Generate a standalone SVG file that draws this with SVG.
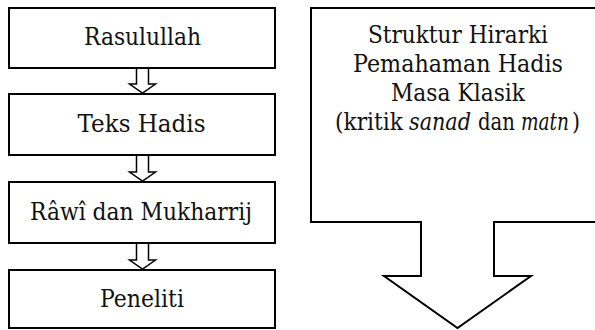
<svg xmlns="http://www.w3.org/2000/svg" width="595" height="330" viewBox="0 0 595 330">
<style>
.box{fill:#fff;stroke:#000;stroke-width:2}
.arr{fill:#fff;stroke:#000;stroke-width:1.5;stroke-linejoin:miter}
.big{fill:#fff;stroke:#000;stroke-width:2;stroke-linejoin:miter}
.t{font-family:"DejaVu Serif",serif;font-size:24px;fill:#111;text-anchor:middle}
.s{font-family:"DejaVu Serif",serif;font-size:24px;fill:#111;text-anchor:start}
.i{font-style:italic}
</style>
<rect width="595" height="330" fill="#fff"/>
<g id="connectors">
<path class="arr" d="M136.5,69 V84 H129.5 L142.5,93 L155.5,84 H148.5 V69"/>
<path class="arr" d="M136.5,156 V172 H129.5 L142.5,181 L155.5,172 H148.5 V156"/>
<path class="arr" d="M136.5,244 V260 H129.5 L142.5,269 L155.5,260 H148.5 V244"/>
</g>
<g id="n1"><rect class="box" x="9" y="8" width="266" height="60"/><text class="t" x="142.5" y="44.5" textLength="117" lengthAdjust="spacingAndGlyphs">Rasulullah</text></g>
<g id="n2"><rect class="box" x="9" y="94" width="266" height="61"/><text class="t" x="141.5" y="132" textLength="128" lengthAdjust="spacingAndGlyphs">Teks Hadis</text></g>
<g id="n3"><rect class="box" x="9" y="182" width="266" height="61"/><text class="t" x="141" y="220" textLength="222" lengthAdjust="spacingAndGlyphs">Râwî dan Mukharrij</text></g>
<g id="n4"><rect class="box" x="9" y="270" width="266" height="58"/><text class="t" x="142" y="306.5" textLength="84" lengthAdjust="spacingAndGlyphs">Peneliti</text></g>
<g id="n5">
<path class="big" d="M311,8 H605 V222 H494 V276 H531 L457.5,328 L384,276 H421 V222 H311 Z"/>
<text class="t" x="458" y="43" textLength="180" lengthAdjust="spacingAndGlyphs">Struktur Hirarki</text>
<text class="t" x="458" y="72" textLength="210" lengthAdjust="spacingAndGlyphs">Pemahaman Hadis</text>
<text class="t" x="458" y="101" textLength="134" lengthAdjust="spacingAndGlyphs">Masa Klasik</text>
<text class="s" x="335" y="130" textLength="68" lengthAdjust="spacingAndGlyphs">(kritik</text>
<text class="s i" x="409" y="130" textLength="62" lengthAdjust="spacingAndGlyphs">sanad</text>
<text class="s" x="478" y="130" textLength="37" lengthAdjust="spacingAndGlyphs">dan</text>
<text class="s i" x="521" y="130" textLength="48" lengthAdjust="spacingAndGlyphs">matn</text>
<text class="s" x="572" y="130" textLength="8" lengthAdjust="spacingAndGlyphs">)</text>
</g>
</svg>
